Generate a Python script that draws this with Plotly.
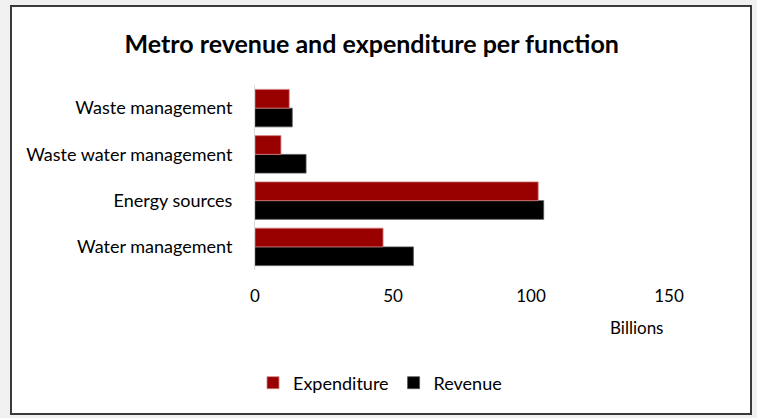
import plotly.graph_objects as go

categories = ["Water management", "Energy sources", "Waste water management", "Waste management"]
expenditure = [46.4, 102.6, 9.4, 12.4]
revenue = [57.4, 104.6, 18.5, 13.5]
x_ticks = [0, 50, 100, 150]

W, H = 757, 418
ML, MR, MT, MB = 255, 88, 85, 148
pw, ph = W - ML - MR, H - MT - MB

def px_x(v):
    return (v - ML) / pw

def px_y(v):
    return (H - MB - v) / ph

font = "Lato, 'Open Sans', sans-serif"

fig = go.Figure()
fig.add_trace(go.Bar(
    y=categories, x=revenue, name="Revenue", orientation="h",
    marker=dict(color="#000000", line=dict(color="#555555", width=0.8)),
))
fig.add_trace(go.Bar(
    y=categories, x=expenditure, name="Expenditure", orientation="h",
    marker=dict(color="#990000", line=dict(color="#d08080", width=0.8)),
))

fig.update_layout(
    width=W, height=H,
    margin=dict(l=ML, r=MR, t=MT, b=MB),
    paper_bgcolor="#f0f0f0",
    plot_bgcolor="rgba(0,0,0,0)",
    barmode="group",
    bargap=0.19,
    bargroupgap=0,
    showlegend=True,
    title=dict(
        text="<b>Metro revenue and expenditure per function</b>",
        font=dict(family=font, size=25, color="#000000"),
        x=0.491, xanchor="center", y=1 - 44 / H, yanchor="middle",
    ),
    legend=dict(
        orientation="h", traceorder="reversed",
        x=px_x(380), xanchor="center", y=px_y(383), yanchor="middle",
        font=dict(family=font, size=18, color="#000000"),
        bgcolor="rgba(0,0,0,0)", itemwidth=30,
    ),
    xaxis=dict(
        range=[0, 150], tickvals=x_ticks, ticktext=[str(t) for t in x_ticks],
        showgrid=False, zeroline=False, showline=False, ticks="",
        ticklabelstandoff=14,
        tickfont=dict(family=font, size=17, color="#000000"),
    ),
    yaxis=dict(
        showgrid=False, zeroline=False, showline=True, linecolor="#d9d9d9", linewidth=1,
        ticks="", ticklabelstandoff=18,
        tickfont=dict(family=font, size=18, color="#000000"),
    ),
    shapes=[
        dict(type="rect", xref="paper", yref="paper", layer="below",
             x0=px_x(11), x1=px_x(751), y0=px_y(414), y1=px_y(6),
             fillcolor="#ffffff", line=dict(color="#3a3a3a", width=2)),
    ],
    annotations=[
        dict(text="Billions", xref="paper", yref="paper", showarrow=False,
             x=px_x(636), y=px_y(327), xanchor="center", yanchor="middle",
             font=dict(family=font, size=17, color="#000000")),
    ],
)

fig.write_html("out.html")
